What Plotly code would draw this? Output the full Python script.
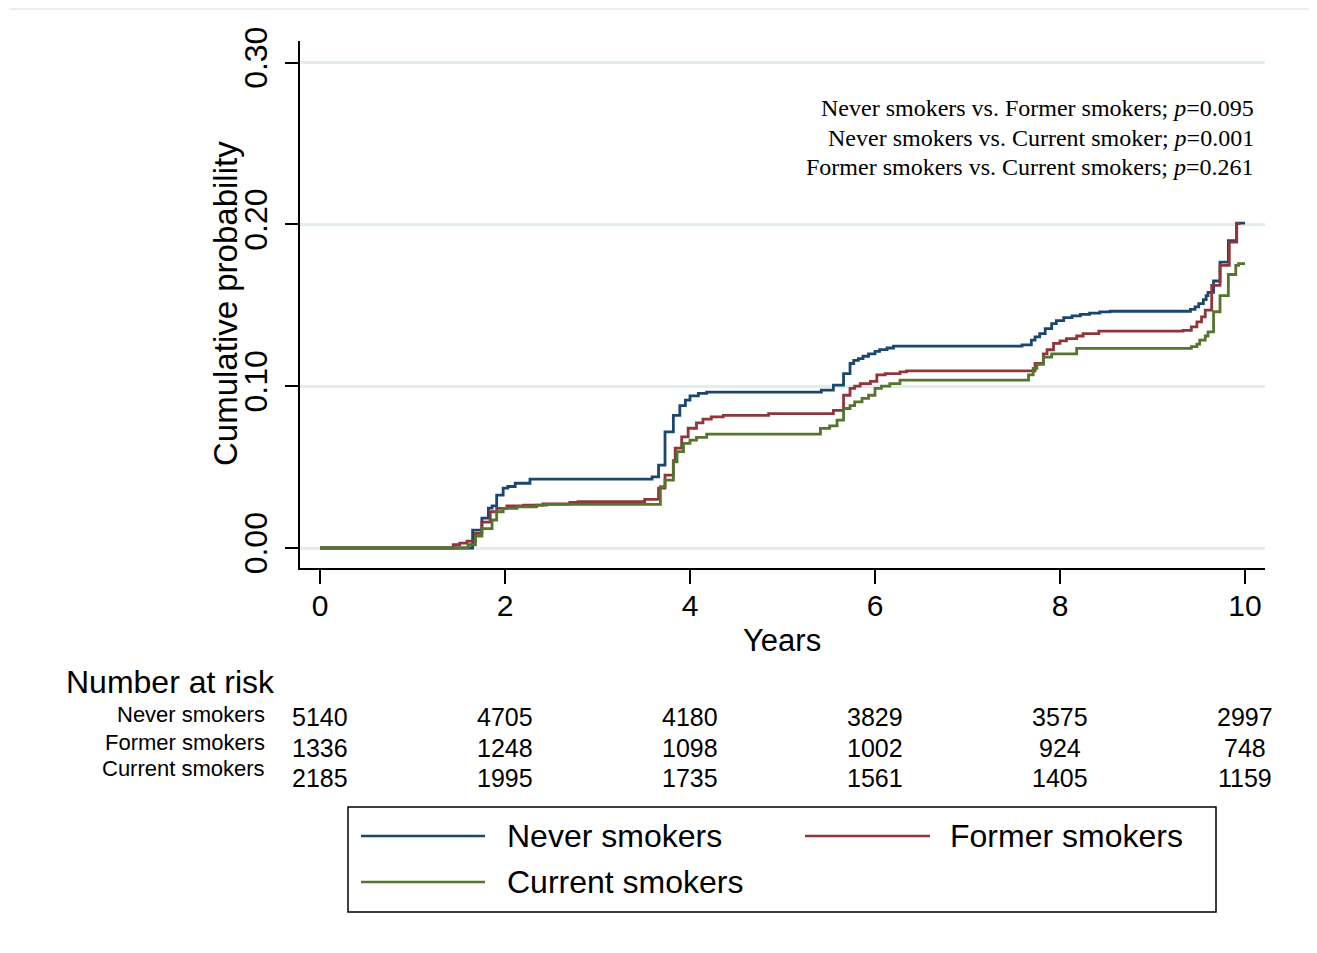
import plotly.graph_objects as go

# ---------------- data ----------------
series_names = ["Never smokers", "Former smokers", "Current smokers"]
series_colors = ["#1a476f", "#90353b", "#55752f"]

never_t = [0, 1.65, 1.75, 1.82, 1.86, 1.91, 1.98, 2.03, 2.11, 2.27,
           3.59, 3.66, 3.73, 3.82, 3.89, 3.95, 4.00, 4.09, 4.18,
           5.42, 5.55, 5.66, 5.73, 5.77, 5.82, 5.87, 5.93, 6.00, 6.05, 6.13, 6.20,
           7.59, 7.69, 7.73, 7.78, 7.84, 7.91, 7.96, 8.04, 8.13, 8.22, 8.32, 8.43, 8.54,
           9.41, 9.46, 9.50, 9.55, 9.58, 9.60, 9.66, 9.73, 9.82, 9.91, 10.0]
never_p = [0, 0.011, 0.0185, 0.0247, 0.026, 0.0327, 0.037, 0.038, 0.040, 0.0426,
           0.044, 0.0512, 0.0718, 0.082, 0.088, 0.0914, 0.094, 0.0955, 0.0963,
           0.0975, 0.1006, 0.1078, 0.114, 0.116, 0.117, 0.1185, 0.120, 0.1215, 0.1226, 0.1236, 0.1247,
           0.1255, 0.1284, 0.1305, 0.1325, 0.1356, 0.1387, 0.1405, 0.1424, 0.1435, 0.1444, 0.1452, 0.1459, 0.1463,
           0.1475, 0.149, 0.151, 0.1535, 0.156, 0.158, 0.165, 0.1767, 0.190, 0.2008, 0.2008]

former_t = [0, 1.44, 1.51, 1.59, 1.68, 1.75, 1.84, 1.91, 2.02, 2.20,
            2.41, 2.70, 2.79, 3.51, 3.66, 3.73, 3.82, 3.84, 3.91, 3.98,
            4.07, 4.14, 4.23, 4.36, 4.85, 5.55, 5.66, 5.73, 5.78, 5.84,
            5.95, 6.02, 6.11, 6.27, 6.34, 7.73, 7.82, 7.86, 7.93, 8.00,
            8.07, 8.18, 8.25, 8.42, 9.33, 9.42, 9.48, 9.53, 9.57, 9.64,
            9.73, 9.83, 9.91, 9.95]
former_p = [0, 0.002, 0.003, 0.0043, 0.009, 0.016, 0.0224, 0.0245, 0.026, 0.0265,
            0.0272, 0.0282, 0.0286, 0.030, 0.037, 0.045, 0.054, 0.0617, 0.0687, 0.074,
            0.0773, 0.0796, 0.081, 0.082, 0.083, 0.085, 0.0944, 0.0986, 0.100, 0.1016,
            0.103, 0.107, 0.1078, 0.1088, 0.1095, 0.114, 0.120, 0.1225, 0.1264, 0.128,
            0.1294, 0.131, 0.1325, 0.134, 0.1345, 0.1366, 0.1397, 0.1428, 0.147, 0.1623,
            0.1747, 0.189, 0.2004, 0.2004]

current_t = [0, 1.60, 1.68, 1.75, 1.86, 1.91, 1.98, 2.13, 2.34, 2.45,
             3.68, 3.73, 3.82, 3.86, 3.93, 4.00, 4.07, 4.18,
             5.41, 5.51, 5.59, 5.66, 5.73, 5.78, 5.86, 5.93, 6.00, 6.07, 6.16, 6.27,
             7.66, 7.71, 7.75, 7.82, 7.91, 8.18,
             9.42, 9.48, 9.51, 9.57, 9.60, 9.66, 9.73, 9.82, 9.90, 9.93, 10.0]
current_p = [0, 0.002, 0.0074, 0.012, 0.0173, 0.0224, 0.0245, 0.0255, 0.0265, 0.027,
             0.0379, 0.042, 0.0533, 0.0595, 0.0646, 0.0667, 0.0683, 0.0704,
             0.0739, 0.0755, 0.079, 0.0862, 0.088, 0.0903, 0.0925, 0.0944, 0.0986, 0.100, 0.1016, 0.1037,
             0.107, 0.111, 0.1135, 0.118, 0.120, 0.1233,
             0.1245, 0.126, 0.1284, 0.131, 0.1335, 0.146, 0.156, 0.169, 0.1747, 0.1757, 0.1757]

x_ticks = [0, 2, 4, 6, 8, 10]
y_ticks = [0.0, 0.1, 0.2, 0.3]
y_tick_labels = ["0.00", "0.10", "0.20", "0.30"]

risk_times = [0, 2, 4, 6, 8, 10]
risk_never = [5140, 4705, 4180, 3829, 3575, 2997]
risk_former = [1336, 1248, 1098, 1002, 924, 748]
risk_current = [2185, 1995, 1735, 1561, 1405, 1159]

pvalue_lines = [
    "Never smokers vs. Former smokers; <i>p</i>=0.095",
    "Never smokers vs. Current smoker; <i>p</i>=0.001",
    "Former smokers vs. Current smokers; <i>p</i>=0.261",
]

# ---------------- layout helpers ----------------
OFF = 8                      # page body margin
WIN_W, WIN_H = 1317, 953
W, H = WIN_W - OFF, WIN_H - OFF
L, R, T, B = 300, 1265, 41, 568   # plot area in window pixels


def px(x):
    return (x - L) / (R - L)


def py(y):
    return (B - y) / (B - T)


SANS = "Liberation Sans, Arial, sans-serif"
SERIF = "Liberation Serif, Times New Roman, serif"

fig = go.Figure()
all_t = [never_t, former_t, current_t]
all_p = [never_p, former_p, current_p]
for name, col, t, p in zip(series_names, series_colors, all_t, all_p):
    fig.add_trace(go.Scatter(x=t, y=p, mode="lines", name=name,
                             line=dict(color=col, width=2.8, shape="hv"),
                             showlegend=False))

fig.update_layout(
    width=W, height=H, autosize=False,
    margin=dict(l=L - OFF, r=WIN_W - R, t=T - OFF, b=WIN_H - B, pad=0),
    paper_bgcolor="white", plot_bgcolor="white",
    font=dict(family=SANS, color="black"),
)
fig.update_xaxes(
    range=[-0.2162, 10.2162], tickvals=x_ticks, ticktext=[str(v) for v in x_ticks],
    showgrid=False, zeroline=False, showline=True, linecolor="black", linewidth=1.5,
    ticks="outside", ticklen=14, tickwidth=1.5, tickcolor="black",
    tickfont=dict(size=30, family=SANS, color="black"), ticklabelstandoff=-4,
)
fig.update_yaxes(
    range=[-0.01236, 0.3133], tickvals=y_ticks, ticktext=y_tick_labels,
    showgrid=True, gridcolor="#e3ecee", gridwidth=2.5, zeroline=False,
    showline=True, linecolor="black", linewidth=1.5,
    ticks="outside", ticklen=13, tickwidth=1.5, tickcolor="black",
    tickangle=-90, tickfont=dict(size=32, family=SANS, color="black"),
    ticklabelstandoff=5,
)

annotations = []
# axis titles
annotations.append(dict(text="Years", x=px(782), y=py(640), xref="paper", yref="paper",
                        showarrow=False, font=dict(size=31, family=SANS, color="black"),
                        xanchor="center", yanchor="middle"))
annotations.append(dict(text="Cumulative probability", x=px(225), y=py(304), xref="paper",
                        yref="paper", showarrow=False, textangle=-90,
                        font=dict(size=33, family=SANS, color="black"),
                        xanchor="center", yanchor="middle"))
# p-value text
for i, line in enumerate(pvalue_lines):
    annotations.append(dict(text=line, x=px(1256), y=py(108 + 29.5 * i), xref="paper",
                            yref="paper", showarrow=False, xanchor="right", yanchor="middle",
                            font=dict(size=24, family=SERIF, color="black")))
# number at risk table
annotations.append(dict(text="Number at risk", x=px(64), y=py(682), xref="paper", yref="paper",
                        showarrow=False, xanchor="left", yanchor="middle",
                        font=dict(size=32, family=SANS, color="black")))
label_y = [715, 742, 768]
num_y = [717, 748, 778]
risk_rows = [risk_never, risk_former, risk_current]
for name, ly, ny, row in zip(series_names, label_y, num_y, risk_rows):
    annotations.append(dict(text=name, x=px(267), y=py(ly), xref="paper", yref="paper",
                            showarrow=False, xanchor="right", yanchor="middle",
                            font=dict(size=22, family=SANS, color="black")))
    for t, n in zip(risk_times, row):
        annotations.append(dict(text=str(n), x=t, y=py(ny), xref="x", yref="paper",
                                showarrow=False, xanchor="center", yanchor="middle",
                                font=dict(size=25, family=SANS, color="black")))

# manual legend
shapes = []
shapes.append(dict(type="rect", xref="paper", yref="paper", x0=px(348), x1=px(1216),
                   y0=py(912), y1=py(807), line=dict(color="black", width=1.5)))
legend_pos = [(361, 485, 505, 836), (805, 930, 948, 836), (361, 485, 505, 882)]
for name, col, (lx0, lx1, tx, ly) in zip(series_names, series_colors, legend_pos):
    shapes.append(dict(type="line", xref="paper", yref="paper", x0=px(lx0), x1=px(lx1),
                       y0=py(ly), y1=py(ly), line=dict(color=col, width=2.6)))
    annotations.append(dict(text=name, x=px(tx), y=py(ly), xref="paper", yref="paper",
                            showarrow=False, xanchor="left", yanchor="middle",
                            font=dict(size=32, family=SANS, color="black")))
# faint outer frame
shapes.append(dict(type="line", xref="paper", yref="paper", x0=px(9), x1=px(1312),
                   y0=py(9), y1=py(9), line=dict(color="#e8f0ee", width=2)))
shapes.append(dict(type="line", xref="paper", yref="paper", x0=px(1312), x1=px(1312),
                   y0=py(9), y1=py(953), line=dict(color="#e8f0ee", width=2)))

fig.update_layout(annotations=annotations, shapes=shapes)
fig.write_html("out.html")
